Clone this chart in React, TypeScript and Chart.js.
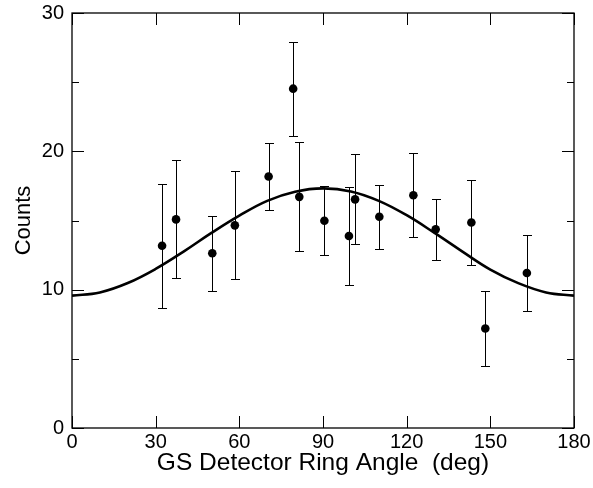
import React, { useEffect, useRef } from "react";
import { Chart, registerables } from "chart.js";

Chart.register(...registerables);

// Measured points (angle in deg, counts, symmetric error half-width)
const angles = [32.3, 37.3, 50.3, 58.4, 70.5, 79.3, 81.5, 90.5, 99.3, 101.5, 110.2, 122.4, 130.4, 143.2, 148.2, 163.1];
const counts = [13.17, 15.08, 12.63, 14.65, 18.18, 24.53, 16.71, 14.98, 13.88, 16.53, 15.27, 16.83, 14.36, 14.86, 7.19, 11.21];
const errors = [4.5, 4.27, 2.73, 3.9, 2.4, 3.4, 3.95, 2.49, 3.52, 3.25, 2.32, 3.05, 2.23, 3.1, 2.7, 2.75];

// Fit curve
const fitAngles = [0, 10, 20, 30, 40, 50, 60, 70, 80, 90, 100, 110, 120, 130, 140, 150, 160, 170, 180];
const fitCounts = [9.57, 9.8, 10.48, 11.5, 12.75, 14.1, 15.35, 16.42, 17.08, 17.32, 17.1, 16.42, 15.38, 14.1, 12.75, 11.45, 10.47, 9.8, 9.57];

const xTicks = [0, 30, 60, 90, 120, 150, 180];
const yTicks = [0, 10, 20, 30];
const yMinorTicks = [5, 15, 25];

const FONT = "'Liberation Sans', Arial, Helvetica, sans-serif";

const errorBarPlugin = {
  id: "errorBars",
  beforeDatasetsDraw(chart: any) {
    const { ctx, scales } = chart;
    const x = scales.x;
    const y = scales.y;
    ctx.save();
    ctx.strokeStyle = "#000";
    ctx.lineWidth = 1;
    angles.forEach((a, i) => {
      const px = Math.round(x.getPixelForValue(a)) + 0.5;
      const yt = Math.round(y.getPixelForValue(counts[i] + errors[i])) + 0.5;
      const yb = Math.round(y.getPixelForValue(counts[i] - errors[i])) + 0.5;
      ctx.beginPath();
      ctx.moveTo(px, yt);
      ctx.lineTo(px, yb);
      ctx.moveTo(px - 4.5, yt);
      ctx.lineTo(px + 4.5, yt);
      ctx.moveTo(px - 4.5, yb);
      ctx.lineTo(px + 4.5, yb);
      ctx.stroke();
    });
    ctx.restore();
  },
};

const framePlugin = {
  id: "frame",
  afterDraw(chart: any) {
    const { ctx, chartArea, scales } = chart;
    const { left, right, top, bottom } = chartArea;
    const x = scales.x;
    const y = scales.y;
    ctx.save();
    ctx.strokeStyle = "#000";
    ctx.lineWidth = 1;
    ctx.beginPath();
    xTicks.forEach((v) => {
      const px = Math.round(x.getPixelForValue(v)) + 0.5;
      ctx.moveTo(px, bottom);
      ctx.lineTo(px, bottom - 12);
      ctx.moveTo(px, top);
      ctx.lineTo(px, top + 12);
    });
    yTicks.forEach((v) => {
      const py = Math.round(y.getPixelForValue(v)) + 0.5;
      ctx.moveTo(left, py);
      ctx.lineTo(left + 12, py);
      ctx.moveTo(right, py);
      ctx.lineTo(right - 12, py);
    });
    yMinorTicks.forEach((v) => {
      const py = Math.round(y.getPixelForValue(v)) + 0.5;
      ctx.moveTo(left, py);
      ctx.lineTo(left + 7, py);
      ctx.moveTo(right, py);
      ctx.lineTo(right - 7, py);
    });
    ctx.stroke();
    ctx.lineWidth = 1.3;
    ctx.strokeRect(left, top, right - left, bottom - top);
    ctx.restore();
  },
};

export default function App() {
  const canvasRef = useRef<HTMLCanvasElement | null>(null);

  useEffect(() => {
    document.body.style.margin = "0";
    const canvas = canvasRef.current;
    if (!canvas) return;
    const chart = new Chart(canvas, {
      type: "scatter",
      data: {
        datasets: [
          {
            label: "fit",
            data: fitAngles.map((a, i) => ({ x: a, y: fitCounts[i] })),
            showLine: true,
            borderColor: "#000",
            borderWidth: 2.6,
            pointRadius: 0,
            tension: 0.4,
            order: 2,
          } as any,
          {
            label: "data",
            data: angles.map((a, i) => ({ x: a, y: counts[i] })),
            backgroundColor: "#000",
            borderColor: "#000",
            borderWidth: 0,
            pointRadius: 4.3,
            order: 1,
          },
        ],
      },
      options: {
        animation: false,
        responsive: false,
        devicePixelRatio: 1,
        layout: { padding: { top: 13, right: 19, left: 0, bottom: 0 } },
        plugins: {
          legend: { display: false },
          tooltip: { enabled: false },
        },
        scales: {
          x: {
            type: "linear",
            min: 0,
            max: 180,
            grid: { display: false, drawTicks: false },
            border: { display: false },
            ticks: {
              stepSize: 30,
              color: "#000",
              padding: 2,
              font: { family: FONT, size: 20 },
            },
            title: {
              display: true,
              text: "GS Detector Ring Angle  (deg)",
              color: "#000",
              font: { family: FONT, size: 24.5 },
              padding: { top: 0, bottom: 10 },
            },
            afterFit: (s: any) => {
              s.height = 60;
              s.paddingLeft = 0;
              s.paddingRight = 0;
            },
          },
          y: {
            type: "linear",
            min: 0,
            max: 30,
            grid: { display: false, drawTicks: false },
            border: { display: false },
            ticks: {
              stepSize: 10,
              color: "#000",
              padding: 8,
              font: { family: FONT, size: 20 },
            },
            title: {
              display: true,
              text: "Counts",
              color: "#000",
              font: { family: FONT, size: 22 },
              padding: { top: 11, bottom: 0 },
            },
            afterFit: (s: any) => {
              s.width = 72;
              s.paddingTop = 0;
              s.paddingBottom = 0;
            },
          },
        },
      },
      plugins: [errorBarPlugin, framePlugin],
    });
    return () => chart.destroy();
  }, []);

  return (
    <div style={{ width: 593, height: 488 }}>
      <canvas ref={canvasRef} width={593} height={488} style={{ display: "block" }} />
    </div>
  );
}
